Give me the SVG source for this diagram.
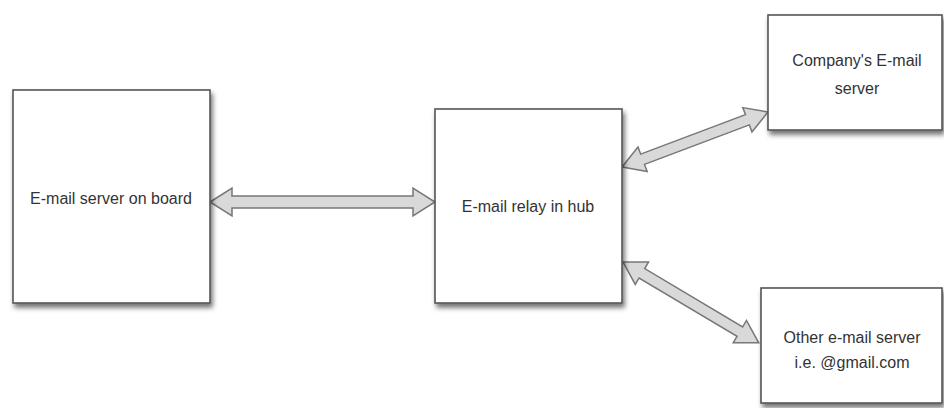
<svg xmlns="http://www.w3.org/2000/svg" width="944" height="408" viewBox="0 0 944 408">
<defs>
<filter id="sh" x="-10%" y="-10%" width="130%" height="130%">
<feDropShadow dx="2" dy="4" stdDeviation="2.5" flood-color="#000" flood-opacity="0.55"/>
</filter>
</defs>
<style>
.box{fill:#fff;stroke:#555;stroke-width:1.6;filter:url(#sh)}
.lbl{font-family:"Liberation Sans",Arial,sans-serif;font-size:16px;fill:#333;text-anchor:middle}
.arr{fill:#d9d9d9;stroke:#777;stroke-width:1.5;stroke-linejoin:miter}
</style>
<rect width="944" height="408" fill="#fff"/>
<g id="connectors">
<path class="arr" transform="translate(210,202)" d="M0,0 L22,-14 L22,-6 L203,-6 L203,-14 L225,0 L203,14 L203,6 L22,6 L22,14 Z"/>
<path class="arr" transform="translate(622,167) rotate(-20.64)" d="M0,0 L22,-13 L22,-5.5 L134,-5.5 L134,-13 L156,0 L134,13 L134,5.5 L22,5.5 L22,13 Z"/>
<path class="arr" transform="translate(623,262) rotate(30.78)" d="M0,0 L22,-13 L22,-5.5 L136,-5.5 L136,-13 L158,0 L136,13 L136,5.5 L22,5.5 L22,13 Z"/>
</g>
<g id="board">
<rect class="box" x="13" y="90" width="197" height="213"/>
<text class="lbl" x="111" y="204">E-mail server on board</text>
</g>
<g id="hub">
<rect class="box" x="435" y="109" width="187" height="194"/>
<text class="lbl" x="528" y="212">E-mail relay in hub</text>
</g>
<g id="company">
<rect class="box" x="768" y="15" width="174" height="115"/>
<text class="lbl" x="857" y="66">Company's E-mail</text>
<text class="lbl" x="857" y="94">server</text>
</g>
<g id="other">
<rect class="box" x="761" y="288" width="181" height="115"/>
<text class="lbl" x="852" y="343">Other e-mail server</text>
<text class="lbl" x="852" y="368">i.e. @gmail.com</text>
</g>
</svg>
